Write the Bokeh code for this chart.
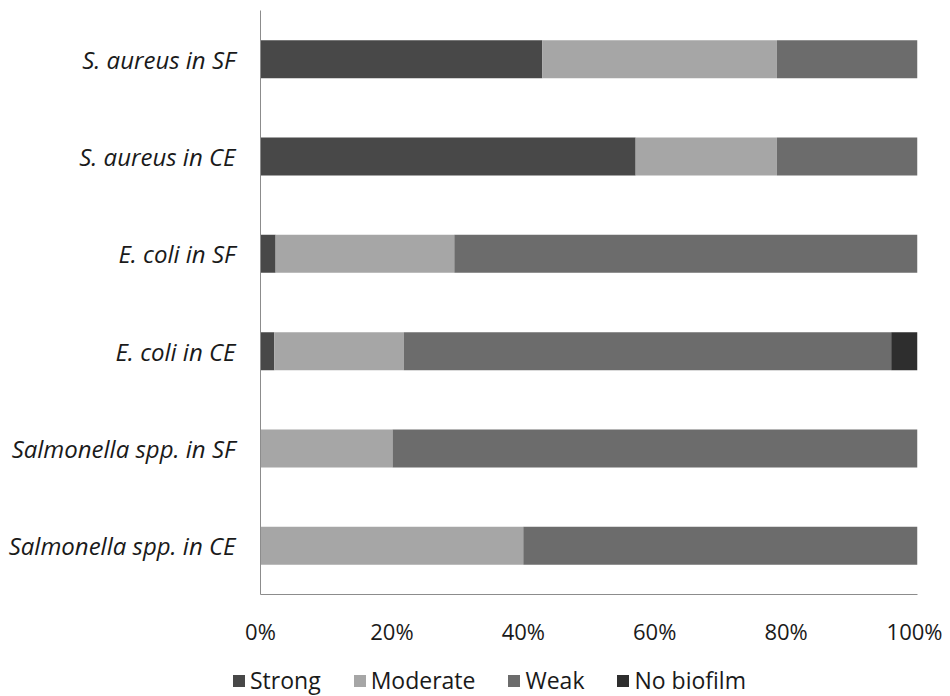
from bokeh.plotting import figure
from bokeh.layouts import column, row
from bokeh.models import ColumnDataSource, FactorRange, Range1d, FixedTicker, Legend, LegendItem
from bokeh.embed import file_html
from bokeh.resources import INLINE

categories = ["S. aureus in SF", "S. aureus in CE", "E. coli in SF",
              "E. coli in CE", "Salmonella spp. in SF", "Salmonella spp. in CE"]
strong = [42.9, 57.1, 2.3, 2.1, 0.0, 0.0]
moderate = [35.7, 21.5, 27.2, 19.7, 20.1, 40.0]
weak = [21.4, 21.4, 70.5, 74.2, 79.9, 60.0]
no_biofilm = [0.0, 0.0, 0.0, 4.0, 0.0, 0.0]
series_names = ["Strong", "Moderate", "Weak", "No biofilm"]
series_colors = ["#484848", "#a6a6a6", "#6c6c6c", "#2e2e2e"]
tick_values = [0, 20, 40, 60, 80, 100]
tick_labels = ["0%", "20%", "40%", "60%", "80%", "100%"]

FONT = "Open Sans"

source = ColumnDataSource(dict(cat=categories, Strong=strong, Moderate=moderate,
                               Weak=weak, **{"No biofilm": no_biofilm}))

p = figure(width=942, height=650, output_backend="svg", toolbar_location=None,
           y_range=FactorRange(*list(reversed(categories)), range_padding=0),
           x_range=Range1d(0, 100),
           min_border_left=260, min_border_right=25, min_border_top=10, min_border_bottom=56)

rs = p.hbar_stack(series_names, y="cat", height=0.39, color=series_colors,
                  line_color=None, source=source)

p.outline_line_color = None
p.xgrid.grid_line_color = None
p.ygrid.grid_line_color = None

p.xaxis.ticker = FixedTicker(ticks=tick_values)
p.xaxis.major_label_overrides = {v: l for v, l in zip(tick_values, tick_labels)}
for ax in (p.xaxis[0], p.yaxis[0]):
    ax.axis_line_color = "#8c8c8c"
    ax.axis_line_width = 1
    ax.major_tick_line_color = None
    ax.minor_tick_line_color = None
    ax.major_tick_out = 0
    ax.major_tick_in = 0
    ax.major_label_text_font = FONT
    ax.major_label_text_font_size = "22px"
    ax.major_label_text_color = "#1a1a1a"
p.xaxis.major_label_standoff = 21
p.yaxis.major_label_standoff = 25
p.yaxis.major_label_text_font_style = "italic"
p.yaxis.major_label_text_font_size = "24px"

# legend strip below the chart
p2 = figure(width=942, height=46, output_backend="svg", toolbar_location=None,
            x_range=Range1d(0, 1), y_range=Range1d(0, 1),
            x_axis_type=None, y_axis_type=None, min_border=0)
p2.outline_line_color = None
dummy = [p2.hbar(y=[-5], left=[0], right=[1], height=0.5, color=c, line_color=None)
         for c in series_colors]
legend = Legend(items=[LegendItem(label=n, renderers=[r]) for n, r in zip(series_names, dummy)],
                orientation="horizontal", location=(231, 0),
                glyph_width=15, glyph_height=15, label_standoff=4, spacing=31,
                label_text_font=FONT, label_text_font_size="23px", label_text_color="#1a1a1a",
                background_fill_alpha=0, border_line_color=None, padding=0, margin=0)
p2.add_layout(legend, "center")

layout = column(p, row(p2), spacing=0)
open("out.html", "w").write(file_html(layout, INLINE))
